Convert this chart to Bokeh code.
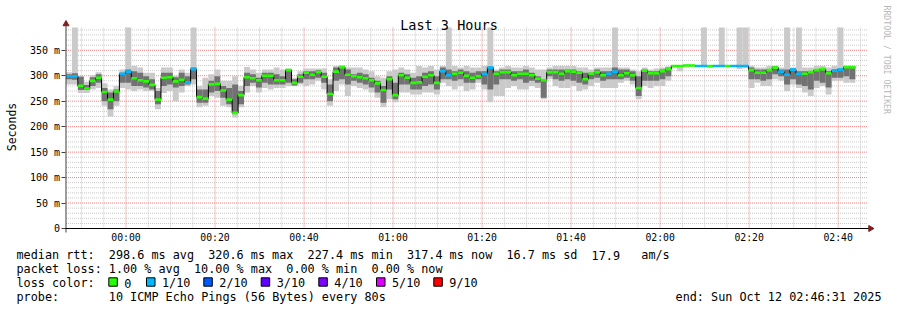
import numpy as np
from bokeh.plotting import figure
from bokeh.models import Range1d, FixedTicker
from bokeh.core.properties import value
from bokeh.embed import file_html
from bokeh.resources import INLINE

FONT = "DejaVu Sans Mono"

title_text = "Last 3 Hours"
y_axis_title = "Seconds"
watermark = "RRDTOOL / TOBI OETIKER"

# time in seconds relative to 00:00:00 (Sun Oct 12 2025)
start_s = -809      # 23:46:31
end_s = 9991        # 02:46:31
step_s = 80

median_ms = [299, 299, 280, 275, 290, 296, 268, 253, 269, 304,
             308, 295, 291, 289, 282, 253, 296, 297, 289, 292,
             287, 313, 258, 255, 283, 284, 271, 253, 227, 262,
             297, 295, 291, 300, 300, 291, 291, 311, 286, 298,
             306, 302, 307, 298, 264, 308, 317, 302, 299, 297,
             295, 291, 285, 272, 293, 262, 301, 296, 286, 287,
             298, 301, 286, 309, 301, 304, 306, 300, 296, 299,
             304, 316, 304, 307, 307, 301, 304, 304, 301, 294,
             291, 307, 307, 304, 309, 308, 306, 293, 304, 307,
             301, 304, 308, 301, 305, 301, 276, 310, 305, 305,
             309, 313, 319, 319, 320, 320, 319, 319, 319, 319,
             319, 319, 319, 319, 319, 311, 306, 306, 311, 316,
             308, 302, 312, 304, 304, 307, 311, 313, 305, 310,
             312, 317, 317]

lost_pings = [1, 1, 0, 0, 0, 0, 0, 0, 0, 1,
              1, 0, 0, 0, 0, 0, 0, 0, 0, 0,
              1, 1, 0, 0, 0, 0, 0, 0, 0, 0,
              0, 0, 0, 0, 0, 0, 0, 0, 0, 0,
              0, 0, 0, 0, 0, 0, 0, 0, 0, 0,
              0, 0, 0, 0, 0, 0, 0, 0, 0, 0,
              0, 0, 0, 1, 1, 0, 0, 0, 0, 0,
              1, 1, 0, 0, 0, 0, 0, 0, 0, 0,
              0, 0, 0, 0, 0, 0, 0, 0, 0, 0,
              0, 1, 1, 0, 0, 0, 0, 0, 0, 0,
              0, 0, 0, 0, 0, 0, 1, 1, 0, 1,
              1, 0, 1, 1, 1, 0, 0, 0, 0, 0,
              1, 1, 1, 1, 0, 0, 0, 0, 0, 1,
              1, 0, 0]

ping_min_ms = [283, 283, 266, 266, 273, 276, 241, 220, 241, 276,
               273, 270, 273, 270, 270, 234, 266, 270, 250, 267,
               280, 283, 238, 241, 260, 257, 241, 238, 218, 238,
               267, 280, 267, 276, 273, 276, 276, 280, 280, 283,
               280, 283, 290, 273, 241, 270, 283, 260, 280, 276,
               273, 267, 257, 238, 254, 248, 267, 267, 263, 263,
               267, 267, 263, 286, 280, 273, 280, 270, 273, 286,
               273, 248, 260, 260, 276, 280, 273, 273, 280, 276,
               254, 293, 280, 276, 276, 280, 270, 273, 280, 286,
               276, 276, 276, 286, 290, 283, 254, 280, 276, 280,
               280, 290, 316, 309, 318, 318, 318, 318, 315, 318,
               318, 318, 318, 313, 315, 276, 286, 280, 280, 293,
               290, 270, 283, 276, 267, 260, 276, 280, 263, 290,
               290, 286, 286]

ping_max_ms = [307, 450, 300, 288, 301, 307, 285, 273, 280, 312,
               450, 319, 316, 306, 306, 276, 316, 316, 300, 312,
               306, 450, 280, 296, 303, 312, 290, 290, 299, 280,
               317, 312, 306, 312, 312, 316, 312, 314, 296, 309,
               314, 314, 314, 314, 293, 319, 320, 316, 316, 316,
               312, 309, 299, 296, 309, 312, 316, 312, 306, 319,
               316, 319, 312, 319, 450, 319, 316, 319, 316, 316,
               319, 450, 312, 316, 319, 316, 316, 319, 316, 312,
               312, 316, 319, 319, 319, 319, 316, 316, 312, 316,
               316, 316, 450, 316, 316, 312, 309, 316, 312, 314,
               316, 318, 320, 320, 322, 322, 320, 450, 320, 320,
               450, 320, 320, 450, 450, 319, 316, 316, 319, 319,
               316, 450, 316, 450, 316, 316, 319, 319, 316, 319,
               450, 319, 319]

core_lo_ms = [293, 292, 272, 272, 280, 286, 250, 234, 250, 286,
              286, 280, 280, 277, 273, 244, 280, 283, 277, 280,
              283, 293, 247, 247, 267, 270, 257, 244, 225, 244,
              280, 286, 277, 286, 283, 283, 283, 286, 281, 286,
              293, 293, 296, 286, 250, 290, 293, 283, 290, 286,
              283, 277, 267, 247, 273, 254, 283, 283, 273, 273,
              280, 283, 273, 293, 293, 290, 293, 286, 286, 293,
              283, 273, 283, 293, 293, 290, 293, 286, 290, 286,
              257, 299, 293, 290, 293, 290, 286, 283, 293, 296,
              290, 293, 293, 293, 296, 290, 260, 290, 290, 290,
              293, 299, 318, 318, 319, 319, 318, 318, 318, 318,
              318, 318, 318, 318, 318, 293, 293, 290, 293, 303,
              299, 283, 293, 283, 280, 273, 290, 286, 277, 296,
              296, 299, 293]

core_hi_ms = [303, 305, 298, 282, 297, 303, 276, 267, 273, 306,
              312, 309, 306, 299, 293, 270, 306, 306, 297, 306,
              299, 316, 273, 273, 290, 299, 280, 276, 283, 270,
              306, 303, 296, 306, 306, 303, 299, 312, 293, 303,
              309, 309, 311, 306, 283, 316, 319, 312, 303, 306,
              303, 296, 290, 280, 299, 286, 306, 303, 296, 299,
              306, 309, 299, 316, 312, 309, 312, 309, 306, 309,
              309, 318, 309, 312, 312, 309, 309, 312, 306, 299,
              293, 312, 312, 312, 312, 312, 309, 306, 306, 312,
              309, 309, 316, 312, 312, 309, 299, 312, 309, 309,
              312, 316, 320, 320, 321, 321, 320, 320, 320, 320,
              320, 320, 320, 320, 320, 316, 312, 312, 312, 318,
              312, 312, 314, 309, 309, 309, 312, 314, 309, 312,
              314, 318, 318]

xticks = [0, 1200, 2400, 3600, 4800, 6000, 7200, 8400, 9600]
xlabels = ["00:00", "00:20", "00:40", "01:00", "01:20", "01:40", "02:00", "02:20", "02:40"]
yticks = [0, 50, 100, 150, 200, 250, 300, 350]
ylabels = ["0", "50 m", "100 m", "150 m", "200 m", "250 m", "300 m", "350 m"]

loss_levels = [0, 1, 2, 3, 4, 5, 9]
loss_labels = ["0", "1/10", "2/10", "3/10", "4/10", "5/10", "9/10"]
loss_colors = ["#26ff00", "#00b8ff", "#0059ff", "#5e00ff", "#7e00ff", "#dd00ff", "#ff0000"]

# legend rows: (text, character column)
row_rtt = [("median rtt:", 0), ("298.6 ms avg", 13), ("320.6 ms max", 27),
           ("227.4 ms min", 41), ("317.4 ms now", 55), ("16.7 ms sd", 69),
           ("17.9", 81), ("am/s", 88)]
row_loss = [("packet loss:", 0), ("1.00 % avg", 13), ("10.00 % max", 25),
            ("0.00 % min", 38), ("0.00 % now", 50)]
row_color = [("loss color:", 0)]
row_probe = [("probe:", 0), ("10 ICMP Echo Pings (56 Bytes) every 80s", 13)]
end_text = "end: Sun Oct 12 02:46:31 2025"

# ---- pixel <-> data mapping of the whole canvas ----
S_PER_PX = 13.48
X00_PX = 125.5
MS_PER_PX = 1.9638
Y0_PX = 228.0


def xd(px):
    return (px - X00_PX) * S_PER_PX


def yd(py):
    return (Y0_PX - py) * MS_PER_PX


y_top = yd(27)

n = len(median_ms)
left = np.array([start_s + i * step_s for i in range(n)], dtype=float)
right = left + step_s

p = figure(width=897, height=310, x_range=Range1d(xd(0), xd(897)),
           y_range=Range1d(yd(310), yd(0)), output_backend="svg",
           toolbar_location=None, min_border=0)
p.outline_line_color = None
p.background_fill_color = "white"
p.border_fill_color = "white"
p.grid.visible = False

# axes drawn at fixed positions inside the canvas
p.xaxis.fixed_location = 0
p.xaxis.ticker = FixedTicker(ticks=xticks)
p.xaxis.major_label_overrides = dict(zip(xticks, xlabels))
p.xaxis.axis_line_color = None
p.xaxis.major_tick_line_color = None
p.xaxis.minor_tick_line_color = None
p.xaxis.major_label_standoff = -3
p.xaxis.major_label_text_font = FONT
p.xaxis.major_label_text_font_size = "9.8px"
p.xaxis.major_label_text_color = "black"

p.yaxis.fixed_location = start_s
p.yaxis.ticker = FixedTicker(ticks=yticks)
p.yaxis.major_label_overrides = dict(zip(yticks, ylabels))
p.yaxis.axis_line_color = None
p.yaxis.major_tick_in = 0
p.yaxis.major_tick_out = 4
p.yaxis.major_tick_line_color = "#404040"
p.yaxis.minor_tick_line_color = None
p.yaxis.major_label_standoff = 2
p.yaxis.major_label_text_font = FONT
p.yaxis.major_label_text_font_size = "10px"
p.yaxis.major_label_text_color = "black"

# grid
minor_x = [t for t in range(-600, end_s, 300) if t % 1200 != 0]
minor_y = [v for v in range(10, 391, 10) if v % 50 != 0]
major_y = yticks[1:]
p.segment(x0=minor_x, x1=minor_x, y0=0, y1=y_top, line_color="#c8c8c8",
          line_dash="1 1", line_width=1)
p.segment(x0=start_s, x1=end_s, y0=minor_y, y1=minor_y, line_color="#c8c8c8",
          line_dash="1 1", line_width=1)
p.segment(x0=xticks, x1=xticks, y0=0, y1=y_top, line_color="#f08080",
          line_dash="1 1", line_width=1)
p.segment(x0=start_s, x1=end_s, y0=major_y, y1=major_y, line_color="#f08080",
          line_dash="1 1", line_width=1)

# smoke
p.quad(left=left, right=right, bottom=ping_min_ms,
       top=np.minimum(np.array(ping_max_ms, dtype=float), y_top),
       fill_color="#cacaca", line_color=None)
p.quad(left=left, right=right, bottom=core_lo_ms, top=core_hi_ms,
       fill_color="#727272", line_color=None)

# median line
p.step(x=list(left) + [right[-1]], y=median_ms + [median_ms[-1]], mode="after",
       line_color="#000000", line_width=1)
seg_colors = [loss_colors[loss_levels.index(l)] for l in lost_pings]
p.segment(x0=left, x1=right, y0=median_ms, y1=median_ms, line_color=seg_colors,
          line_width=2.6)

# axis lines and arrows
p.segment(x0=[start_s], x1=[start_s], y0=[yd(232)], y1=[yd(23)],
          line_color="#404040", line_width=1)
p.segment(x0=[xd(62)], x1=[xd(869)], y0=[0], y1=[0], line_color="#000000",
          line_width=1)
p.scatter(x=[start_s], y=[yd(23.5)], marker="triangle", size=6,
          fill_color="#7f1f1f", line_color="#7f1f1f")
p.scatter(x=[xd(870)], y=[0], marker="triangle", angle=-np.pi / 2, size=6,
          fill_color="#7f1f1f", line_color="#7f1f1f")

# texts
p.text(x=[xd(448.5)], y=[yd(24.5)], text=[title_text], text_font=value(FONT),
       text_font_size="13.5px", text_align="center", text_baseline="alphabetic",
       text_color="black")
p.text(x=[xd(886)], y=[yd(5)], text=[watermark], text_font=value(FONT),
       text_font_size="8.2px", text_align="left", text_baseline="middle",
       angle=-np.pi / 2, text_color="#b8b8b8")
p.text(x=[xd(11)], y=[yd(126.5)], text=[y_axis_title], text_font=value(FONT),
       text_font_size="11.5px", text_align="center", text_baseline="middle",
       angle=np.pi / 2, text_color="black")

# ---- legend below the graph ----
CHAR_W = 7.1
TEXT_X0 = 16
row_baselines = [254.5, 268.5, 282.5, 296.5]
lx, ly, lt = [], [], []
for row, base in zip([row_rtt, row_loss, row_color, row_probe], row_baselines):
    for txt, col in row:
        lx.append(xd(TEXT_X0 + CHAR_W * col))
        ly.append(yd(base))
        lt.append(txt)
p.text(x=lx, y=ly, text=lt, text_font=value(FONT), text_font_size="11.8px",
       text_baseline="alphabetic", text_align="left", text_color="black")
p.text(x=[xd(881)], y=[yd(296.5)], text=[end_text], text_font=value(FONT),
       text_font_size="11.8px", text_baseline="alphabetic", text_align="right",
       text_color="black")

sq_x = [108.3, 146.0, 203.3, 260.7, 318.3, 376.0, 433.3]
p.quad(left=[xd(x) for x in sq_x], right=[xd(x + 8.5) for x in sq_x],
       top=yd(277.3), bottom=yd(285.7), fill_color=loss_colors,
       line_color="black", line_width=1)
p.text(x=[xd(x + 15.5) for x in sq_x], y=yd(282.5), text=loss_labels,
       text_font=value(FONT), text_font_size="11.8px", text_baseline="alphabetic",
       text_align="left", text_color="black")

open("out.html", "w").write(file_html(p, INLINE))
